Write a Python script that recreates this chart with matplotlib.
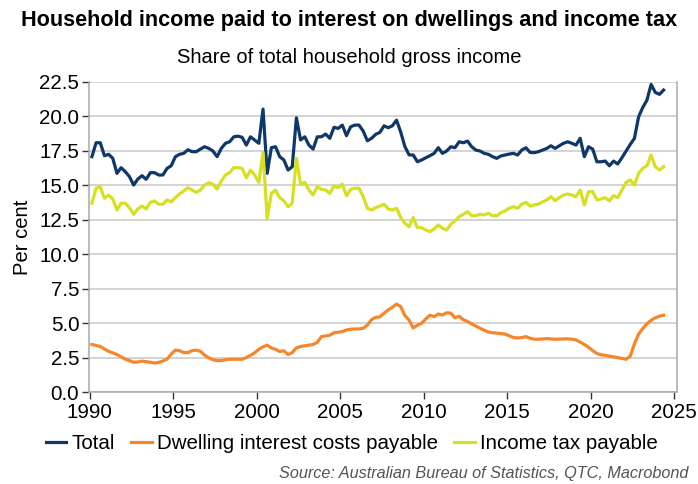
import numpy as np
import matplotlib
matplotlib.use("Agg")
import matplotlib.pyplot as plt

plt.rcParams['font.family'] = ['Liberation Sans', 'DejaVu Sans']

# quarterly observations, 1990Q1 to 2024Q2 (share of household gross income, %)
first_year = 1990
n_quarters = 138

total = [
    17.07, 18.08, 18.08, 17.14, 17.24, 16.95, 15.86, 16.27, 15.98, 15.62,
    15.01, 15.45, 15.69, 15.43, 15.91, 15.91, 15.74, 15.74, 16.22, 16.41,
    17.07, 17.24, 17.31, 17.57, 17.43, 17.43, 17.62, 17.79, 17.67, 17.48,
    17.07, 17.67, 18.04, 18.15, 18.51, 18.56, 18.47, 17.91, 18.51, 18.28,
    18.04, 20.52, 15.86, 17.72, 17.79, 17.07, 16.83, 16.10, 16.34, 19.89,
    18.28, 18.51, 17.91, 17.62, 18.51, 18.51, 18.71, 18.40, 19.20, 19.12,
    19.36, 18.59, 19.24, 19.36, 19.36, 18.93, 18.22, 18.40, 18.69, 18.83,
    19.31, 19.17, 19.31, 19.72, 18.85, 17.80, 17.20, 17.19, 16.70, 16.83,
    16.99, 17.14, 17.31, 17.72, 17.31, 17.48, 17.79, 17.72, 18.15, 18.08,
    18.20, 17.79, 17.55, 17.48, 17.31, 17.24, 17.07, 16.95, 17.12, 17.19,
    17.26, 17.31, 17.19, 17.55, 17.72, 17.38, 17.36, 17.43, 17.55, 17.67,
    17.86, 17.67, 17.86, 18.04, 18.15, 18.04, 17.91, 18.40, 17.07, 17.79,
    17.62, 16.70, 16.70, 16.75, 16.41, 16.75, 16.54, 16.99, 17.48, 17.96,
    18.40, 19.96, 20.64, 21.17, 22.31, 21.73, 21.59, 21.90,
]

dwelling = [
    3.45, 3.38, 3.30, 3.12, 2.95, 2.84, 2.72, 2.55, 2.38, 2.28,
    2.16, 2.18, 2.24, 2.20, 2.16, 2.10, 2.15, 2.25, 2.38, 2.75,
    3.04, 3.00, 2.86, 2.86, 3.00, 3.04, 2.96, 2.68, 2.48, 2.34,
    2.28, 2.28, 2.34, 2.38, 2.38, 2.38, 2.38, 2.50, 2.66, 2.85,
    3.10, 3.28, 3.40, 3.20, 3.10, 2.94, 2.99, 2.72, 2.86, 3.20,
    3.30, 3.36, 3.40, 3.45, 3.60, 4.02, 4.07, 4.12, 4.30, 4.34,
    4.38, 4.50, 4.56, 4.57, 4.58, 4.62, 4.85, 5.25, 5.42, 5.45,
    5.72, 5.95, 6.15, 6.38, 6.20, 5.55, 5.22, 4.65, 4.85, 4.98,
    5.30, 5.57, 5.47, 5.66, 5.58, 5.75, 5.72, 5.38, 5.50, 5.24,
    5.12, 4.95, 4.78, 4.63, 4.48, 4.35, 4.30, 4.27, 4.24, 4.20,
    4.08, 3.95, 3.92, 3.95, 4.02, 3.90, 3.83, 3.83, 3.85, 3.88,
    3.85, 3.83, 3.84, 3.85, 3.86, 3.83, 3.78, 3.62, 3.45, 3.25,
    3.00, 2.80, 2.70, 2.66, 2.60, 2.55, 2.50, 2.44, 2.38, 2.60,
    3.50, 4.20, 4.60, 4.95, 5.20, 5.38, 5.50, 5.57,
]

income_tax = [
    13.69, 14.78, 14.89, 14.05, 14.29, 14.00, 13.20, 13.69, 13.69, 13.37,
    12.89, 13.28, 13.49, 13.28, 13.76, 13.86, 13.62, 13.62, 13.93, 13.80,
    14.10, 14.36, 14.58, 14.82, 14.65, 14.48, 14.65, 15.01, 15.18, 15.07,
    14.72, 15.30, 15.74, 15.91, 16.27, 16.27, 16.22, 15.54, 16.10, 15.74,
    15.21, 17.38, 12.60, 14.41, 14.65, 14.10, 13.86, 13.44, 13.69, 16.95,
    15.07, 15.21, 14.65, 14.29, 14.89, 14.70, 14.65, 14.41, 14.94, 14.82,
    15.07, 14.24, 14.70, 14.78, 14.78, 14.17, 13.33, 13.20, 13.37, 13.49,
    13.62, 13.28, 13.20, 13.33, 12.65, 12.24, 11.99, 12.65, 11.92, 11.92,
    11.75, 11.63, 11.83, 12.12, 11.88, 11.75, 12.17, 12.41, 12.72, 12.89,
    13.08, 12.79, 12.79, 12.89, 12.84, 12.96, 12.79, 12.79, 13.01, 13.13,
    13.33, 13.44, 13.33, 13.62, 13.76, 13.49, 13.57, 13.62, 13.80, 13.93,
    14.17, 13.88, 14.10, 14.29, 14.36, 14.29, 14.17, 14.65, 13.57, 14.53,
    14.53, 13.93, 14.00, 14.10, 13.86, 14.24, 14.10, 14.65, 15.21, 15.38,
    15.01, 15.86, 16.22, 16.41, 17.19, 16.34, 16.10, 16.34,
]

# mid-quarter positions in decimal years
dates = first_year + 0.125 + 0.25 * np.arange(n_quarters)

navy = '#0f3868'
orange = '#f5862a'
lime = '#d6df22'

fig = plt.figure(figsize=(6.98, 4.84), dpi=100)
ax = fig.add_axes([0.1275, 0.19, 0.843, 0.641])

ax.plot(dates, total, color=navy, lw=2.3, label='Total')
ax.plot(dates, dwelling, color=orange, lw=2.3, label='Dwelling interest costs payable')
ax.plot(dates, income_tax, color=lime, lw=2.3, label='Income tax payable')

ax.set_xlim(1989.95, 2025.2)
ax.set_ylim(0, 22.5)
ax.set_xticks(np.arange(1990, 2026, 5))
ax.set_yticks(np.arange(0, 22.6, 2.5))
ax.yaxis.set_major_formatter(matplotlib.ticker.FormatStrFormatter('%.1f'))

ax.grid(axis='y', color='#c8c8c8', lw=1.1)
ax.set_axisbelow(True)
ax.spines['top'].set_visible(False)
for side in ['left', 'bottom', 'right']:
    ax.spines[side].set_color('#a8a8a8')
    ax.spines[side].set_linewidth(1.1)
ax.tick_params(axis='both', labelsize=14.8, length=5, width=1, color='#333333')
ax.tick_params(axis='x', pad=3)
ax.tick_params(axis='y', pad=2)

ax.set_ylabel('Per cent', fontsize=14.6, labelpad=5)

fig.text(0.5, 0.957, 'Household income paid to interest on dwellings and income tax',
         ha='center', va='center', fontsize=15.6, fontweight='bold')
fig.text(0.5, 0.882, 'Share of total household gross income',
         ha='center', va='center', fontsize=14.5)

fig.legend(loc='center', bbox_to_anchor=(0.504, 0.083), ncol=3, frameon=False,
           fontsize=14.8, handlelength=1.0, handletextpad=0.25, columnspacing=0.8)

fig.text(0.986, 0.006, 'Source: Australian Bureau of Statistics, QTC, Macrobond',
         ha='right', va='bottom', fontsize=11.7, style='italic', color='#555555')

fig.savefig('out.png', dpi=100)
